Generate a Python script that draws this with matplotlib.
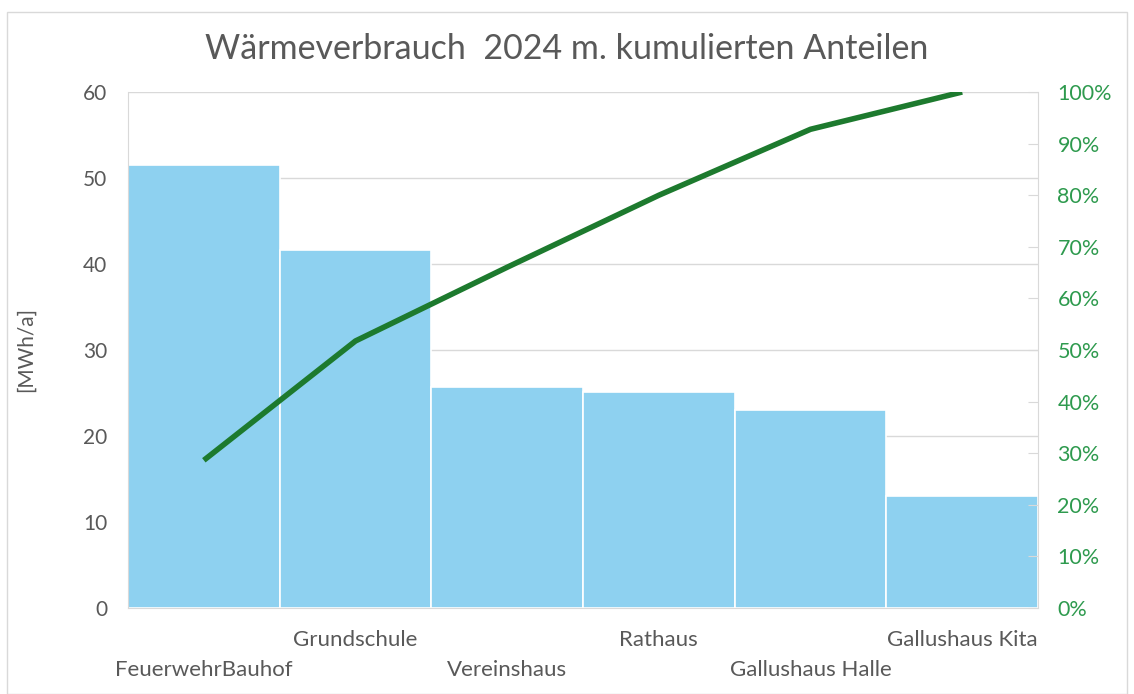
import numpy as np
import matplotlib
matplotlib.use("Agg")
import matplotlib.pyplot as plt
from matplotlib.patches import Rectangle
from matplotlib.ticker import PercentFormatter

# data
gebaeude = ["FeuerwehrBauhof", "Grundschule", "Vereinshaus", "Rathaus",
            "Gallushaus Halle", "Gallushaus Kita"]
verbrauch = [51.5, 41.6, 25.7, 25.1, 23.0, 13.0]  # MWh/a

kumuliert = np.cumsum(verbrauch) / np.sum(verbrauch) * 100

plt.rcParams["font.family"] = ["Lato", "DejaVu Sans"]
grau = "#595959"
gitter = "#D9D9D9"

fig = plt.figure(figsize=(11.34, 6.94), dpi=100)
ax = fig.add_axes([128 / 1134, 1 - 608 / 694, 910 / 1134, 516 / 694])

x = np.arange(len(gebaeude))
ax.bar(x, verbrauch, width=1.0, color="#8ED1F0", edgecolor="white",
       linewidth=1.2, zorder=2)
ax.set_xlim(-0.5, len(gebaeude) - 0.5)
ax.set_ylim(0, 60)
ax.set_yticks(range(0, 61, 10))
ax.grid(axis="y", color=gitter, linewidth=1, zorder=0)
ax.set_axisbelow(True)
ax.tick_params(axis="y", length=0, labelsize=15, labelcolor=grau, pad=15)
ax.tick_params(axis="x", length=0)
ax.set_xticks(x)
ax.set_xticklabels([])
for sp in ["top", "right"]:
    ax.spines[sp].set_visible(False)
ax.spines["left"].set_color(gitter)
ax.spines["bottom"].set_color(gitter)
ax.set_ylabel("[MWh/a]", fontsize=15, color=grau, labelpad=34)

# staggered category labels
for i, name in enumerate(gebaeude):
    y_off = -0.062 if i % 2 else -0.12
    ax.text(i, y_off, name, transform=ax.get_xaxis_transform(),
            ha="center", va="center", fontsize=16, color=grau)

ax2 = ax.twinx()
ax2.plot(x, kumuliert, color="#1D7A2E", linewidth=4, solid_capstyle="butt",
         zorder=3)
ax2.set_ylim(0, 100)
ax2.set_yticks(range(0, 101, 10))
ax2.yaxis.set_major_formatter(PercentFormatter(decimals=0))
ax2.tick_params(axis="y", direction="in", length=7, color=gitter,
                labelsize=15.5, labelcolor="#2E9A4E", pad=14)
for sp in ["top", "left", "bottom"]:
    ax2.spines[sp].set_visible(False)
ax2.spines["right"].set_color(gitter)

fig.suptitle("Wärmeverbrauch  2024 m. kumulierten Anteilen", fontsize=24.5,
             color=grau, y=0.953)

fig.patches.append(Rectangle((7 / 1134, 0), 1 - 14 / 1134, 1 - 12 / 694,
                             transform=fig.transFigure, fill=False,
                             edgecolor=gitter, linewidth=1))

fig.savefig("out.png", dpi=100)
plt.close(fig)
